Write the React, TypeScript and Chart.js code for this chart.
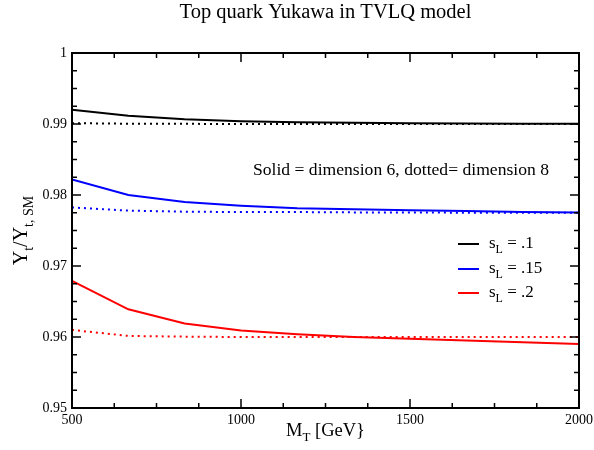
import React, { useEffect, useRef } from "react";
import { Chart, registerables } from "chart.js";

Chart.register(...registerables);

const mT = [500, 666.7, 833.3, 1000, 1166.7, 1333.3, 1500, 1666.7, 1833.3, 2000];

const s01Dim6 = [0.992, 0.99117, 0.99068, 0.9904, 0.99025, 0.99017, 0.99012, 0.99008, 0.99005, 0.99003];
const s01Dim8 = [0.99012, 0.99004, 0.99002, 0.99001, 0.99001, 0.99, 0.99, 0.99, 0.99, 0.99];
const s015Dim6 = [0.9822, 0.98, 0.979, 0.9785, 0.97815, 0.978, 0.97785, 0.97775, 0.9776, 0.97755];
const s015Dim8 = [0.97825, 0.9778, 0.97765, 0.9776, 0.9776, 0.97755, 0.97755, 0.9775, 0.9775, 0.9775];
const s02Dim6 = [0.9679, 0.9639, 0.9619, 0.9609, 0.9604, 0.96, 0.95975, 0.9595, 0.95925, 0.959];
const s02Dim8 = [0.961, 0.96015, 0.96005, 0.96, 0.96, 0.96, 0.96, 0.96, 0.96, 0.96];

const xMajorTicks = [500, 1000, 1500, 2000];
const yMajorTicks = [0.95, 0.96, 0.97, 0.98, 0.99, 1];

const legendLabels = [".1", ".15", ".2"];
const legendColors = ["#000000", "#0000ff", "#ff0000"];

const FAMILY = '"Liberation Serif", "DejaVu Serif", serif';

type Seg = { t: string; sub?: boolean };

function drawRich(
  ctx: CanvasRenderingContext2D,
  segs: Seg[],
  x: number,
  y: number,
  align: "left" | "center",
  size: number,
  subSize: number,
  subDrop: number
) {
  ctx.textBaseline = "alphabetic";
  ctx.textAlign = "left";
  let total = 0;
  const widths = segs.map((s) => {
    ctx.font = `${s.sub ? subSize : size}px ${FAMILY}`;
    const w = ctx.measureText(s.t).width;
    total += w;
    return w;
  });
  let cx = align === "center" ? x - total / 2 : x;
  segs.forEach((s, i) => {
    ctx.font = `${s.sub ? subSize : size}px ${FAMILY}`;
    ctx.fillText(s.t, cx, s.sub ? y + subDrop : y);
    cx += widths[i];
  });
}

function mk(data: number[]) {
  return mT.map((x, i) => ({ x, y: data[i] }));
}

const decorPlugin = {
  id: "decor",
  afterDraw(chart: any) {
    const ctx: CanvasRenderingContext2D = chart.ctx;
    const { left, right, top, bottom } = chart.chartArea;
    const xs = chart.scales.x;
    const ys = chart.scales.y;
    ctx.save();
    ctx.fillStyle = "#000";
    ctx.strokeStyle = "#000";
    // frame
    ctx.lineWidth = 2;
    ctx.strokeRect(left, top, right - left, bottom - top);
    // ticks
    ctx.lineWidth = 1.5;
    ctx.beginPath();
    for (let v = 500; v <= 2000 + 1e-6; v += 125) {
      const px = xs.getPixelForValue(v);
      const major = xMajorTicks.some((m) => Math.abs(m - v) < 1e-6);
      const len = major ? 9 : 5;
      ctx.moveTo(px, bottom);
      ctx.lineTo(px, bottom - len);
      ctx.moveTo(px, top);
      ctx.lineTo(px, top + len);
    }
    for (let k = 0; k <= 20; k++) {
      const v = 0.95 + k * 0.0025;
      const py = ys.getPixelForValue(v);
      const major = k % 4 === 0;
      const len = major ? 9 : 5;
      ctx.moveTo(left, py);
      ctx.lineTo(left + len, py);
      ctx.moveTo(right, py);
      ctx.lineTo(right - len, py);
    }
    ctx.stroke();

    const cxPlot = (left + right) / 2;
    // title
    drawRich(ctx, [{ t: "Top quark Yukawa in TVLQ model" }], cxPlot, 18, "center", 20.5, 14, 5);
    // x title
    drawRich(ctx, [{ t: "M" }, { t: "T", sub: true }, { t: " [GeV}" }], cxPlot, 436, "center", 18.5, 13, 5);
    // y title
    ctx.save();
    ctx.translate(27, (top + bottom) / 2);
    ctx.rotate(-Math.PI / 2);
    drawRich(
      ctx,
      [{ t: "Y" }, { t: "t", sub: true }, { t: "/Y" }, { t: "t, SM", sub: true }],
      0,
      0,
      "center",
      20,
      14,
      6
    );
    ctx.restore();
    // annotation
    drawRich(ctx, [{ t: "Solid = dimension 6, dotted= dimension 8" }], 253, 175, "left", 17.6, 12, 5);
    // legend
    const rowY = [244, 269, 293];
    legendLabels.forEach((lab, i) => {
      ctx.strokeStyle = legendColors[i];
      ctx.lineWidth = 2;
      ctx.beginPath();
      ctx.moveTo(458, rowY[i]);
      ctx.lineTo(479, rowY[i]);
      ctx.stroke();
      ctx.fillStyle = "#000";
      drawRich(ctx, [{ t: "s" }, { t: "L", sub: true }, { t: " = " + lab }], 489, rowY[i] + 4, "left", 17, 12, 5);
    });
    ctx.restore();
  },
};

export default function App() {
  const ref = useRef<HTMLCanvasElement | null>(null);
  useEffect(() => {
    if (!ref.current) return;
    const solid = (data: number[], color: string) => ({
      data: mk(data),
      borderColor: color,
      borderWidth: 2,
      pointRadius: 0,
      fill: false,
      tension: 0,
    });
    const dotted = (data: number[], color: string) => ({
      ...solid(data, color),
      borderDash: [2, 4],
    });
    const chart = new Chart(ref.current, {
      type: "line",
      data: {
        datasets: [
          solid(s01Dim6, legendColors[0]),
          dotted(s01Dim8, legendColors[0]),
          solid(s015Dim6, legendColors[1]),
          dotted(s015Dim8, legendColors[1]),
          solid(s02Dim6, legendColors[2]),
          dotted(s02Dim8, legendColors[2]),
        ] as any,
      },
      options: {
        animation: false,
        responsive: false,
        devicePixelRatio: 1,
        layout: { padding: { top: 53, right: 15, left: 0, bottom: 0 } },
        plugins: { legend: { display: false }, tooltip: { enabled: false }, title: { display: false } },
        scales: {
          x: {
            type: "linear",
            min: 500,
            max: 2000,
            afterFit: (s: any) => {
              s.height = 42;
              s.paddingLeft = 0;
              s.paddingRight = 0;
            },
            afterBuildTicks: (s: any) => {
              s.ticks = xMajorTicks.map((v) => ({ value: v }));
            },
            grid: { display: false, drawTicks: false },
            border: { display: false },
            ticks: {
              padding: 4,
              autoSkip: false,
              maxRotation: 0,
              color: "#000",
              font: { family: FAMILY, size: 14 },
              callback: (v: any) => String(v),
            },
          },
          y: {
            type: "linear",
            min: 0.95,
            max: 1,
            afterFit: (s: any) => {
              s.width = 72;
              s.paddingTop = 0;
              s.paddingBottom = 0;
            },
            afterBuildTicks: (s: any) => {
              s.ticks = yMajorTicks.map((v) => ({ value: v }));
            },
            grid: { display: false, drawTicks: false },
            border: { display: false },
            ticks: {
              padding: 5,
              color: "#000",
              font: { family: FAMILY, size: 14 },
              callback: (v: any) => String(Number(Number(v).toFixed(2))),
            },
          },
        },
      } as any,
      plugins: [decorPlugin],
    });
    return () => chart.destroy();
  }, []);
  return (
    <div style={{ position: "fixed", left: 0, top: 0, width: 594, height: 450, background: "#fff" }}>
      <canvas ref={ref} width={594} height={450} style={{ width: 594, height: 450 }} />
    </div>
  );
}
